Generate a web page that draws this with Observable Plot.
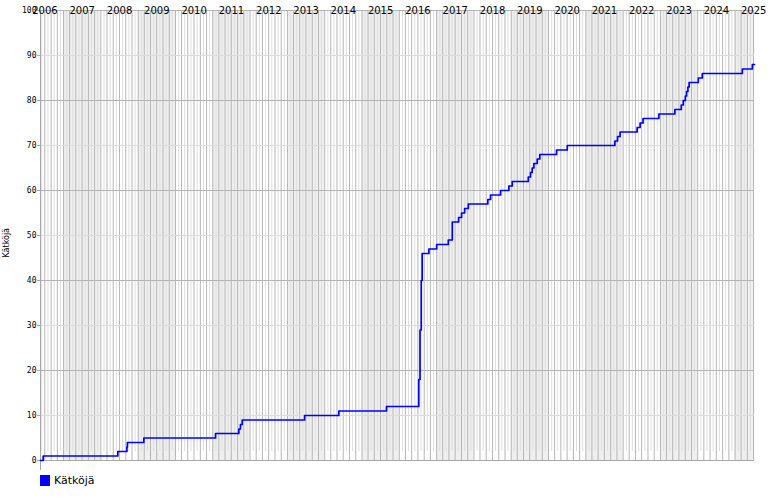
<!DOCTYPE html>
<html>
<head>
<meta charset="utf-8">
<script src="https://cdn.jsdelivr.net/npm/d3@7"></script>
<script src="https://cdn.jsdelivr.net/npm/@observablehq/plot@0.6"></script>
<style>
  html, body { margin: 0; padding: 0; background: #fff; }
  #wrap { position: relative; width: 770px; height: 500px; }
  #legend { position: absolute; left: 40px; top: 474px; font: 11px "DejaVu Sans", sans-serif; color: #000; display: flex; align-items: center; }
  #legend .sw { width: 10px; height: 11px; background: #0000ff; margin-right: 4px; }
</style>
</head>
<body>
<div id="wrap"><div id="chart"></div><div id="legend"><span class="sw"></span><span id="legtext"></span></div></div>
<script>
// ---- data ----
const dates = ["2006-05-20","2006-06-15","2008-06-15","2008-09-12","2008-09-17","2009-02-25","2011-01-28","2011-09-13","2011-09-29","2011-10-16","2013-06-18","2014-05-19","2015-08-29","2016-07-10","2016-07-22","2016-08-03","2016-08-12","2016-10-17","2017-01-01","2017-04-25","2017-06-03","2017-08-04","2017-09-02","2017-10-02","2017-11-07","2018-05-17","2018-06-13","2018-09-19","2018-12-09","2019-01-11","2019-06-17","2019-07-09","2019-07-25","2019-08-11","2019-09-13","2019-10-08","2020-03-20","2020-07-03","2021-10-12","2021-11-07","2021-12-02","2022-05-18","2022-06-16","2022-07-15","2022-12-17","2023-05-22","2023-07-24","2023-08-13","2023-09-02","2023-09-14","2023-09-27","2023-10-09","2024-01-07","2024-02-15","2025-03-13","2025-06-19","2025-07-10"];
const caches = [0,1,2,3,4,5,6,7,8,9,10,11,12,18,29,40,46,47,48,49,53,54,55,56,57,58,59,60,61,62,63,64,65,66,67,68,69,70,71,72,73,74,75,76,77,78,79,80,81,82,83,84,85,86,87,88,88];
const years = [2006,2007,2008,2009,2010,2011,2012,2013,2014,2015,2016,2017,2018,2019,2020,2021,2022,2023,2024,2025];
const yTicks = [0,10,20,30,40,50,60,70,80,90,100];
const seriesName = "Kätköjä";
const yLabel = "Kätköjä";

// ---- build ----
const parse = d3.utcParse("%Y-%m-%d");
const data = dates.map((d, i) => ({date: parse(d), value: caches[i]}));
const xDomain = [data[0].date, data[data.length - 1].date];
const months = d3.utcMonth.range(d3.utcMonth.floor(xDomain[0]), xDomain[1]).filter(m => m >= xDomain[0]);
const darkMonths = months.filter(m => m.getUTCMonth() % 2 === 0);
const lightMonths = months.filter(m => m.getUTCMonth() % 2 === 1);
const shadedYears = years.filter(y => y % 2 === 1);
const darkH = yTicks.filter(v => v % 20 === 0 && v > 0);
const lightH = yTicks.filter(v => v % 20 === 10);

const chart = Plot.plot({
  width: 770,
  height: 470,
  marginLeft: 40,
  marginRight: 16,
  marginTop: 10,
  marginBottom: 10,
  style: {fontFamily: "DejaVu Sans Mono, monospace", fontSize: "8px", background: "#fff"},
  x: {type: "utc", domain: xDomain, axis: null},
  y: {domain: [0, 100], axis: null},
  marks: [
    Plot.rect(shadedYears, {
      x1: y => new Date(Date.UTC(y, 0, 1)),
      x2: y => new Date(Date.UTC(y + 1, 0, 1)),
      fill: "#efefef",
      clip: "frame"
    }),
    Plot.ruleX(lightMonths, {y1: 2, y2: 100, stroke: "#dedede", strokeWidth: 1}),
    Plot.ruleX(darkMonths, {y1: 0, y2: 100, stroke: "#b6b6b6", strokeWidth: 1}),
    Plot.ruleY(lightH, {stroke: "#dcdcdc"}),
    Plot.ruleY(darkH, {stroke: "#b4b4b4"}),
    Plot.ruleY([0], {stroke: "#a8a8a8"}),
    Plot.ruleX([xDomain[0]], {y1: -2.2, y2: 100, stroke: "#a8a8a8"}),
    Plot.axisY({ticks: yTicks, label: null, tickSize: 3, tickPadding: 1, stroke: "#a8a8a8", fontSize: 8, fill: "#000", tickFormat: d => String(d)}),
    Plot.text(years, {
      x: y => new Date(Date.UTC(y, 6, 2)),
      text: y => String(y),
      frameAnchor: "top",
      dy: -4,
      fontSize: 10,
      fontFamily: "DejaVu Sans, sans-serif",
      fill: "#000"
    }),
    Plot.text([yLabel], {
      frameAnchor: "left",
      dx: -34,
      dy: 22,
      rotate: -90,
      fontSize: 8,
      fontFamily: "DejaVu Sans, sans-serif",
      fill: "#000"
    }),
    Plot.line(data, {x: "date", y: "value", curve: "step-after", stroke: "#0000ff", strokeWidth: 1.7})
  ]
});
document.getElementById("chart").appendChild(chart);
document.getElementById("legtext").textContent = seriesName;
</script>
</body>
</html>
